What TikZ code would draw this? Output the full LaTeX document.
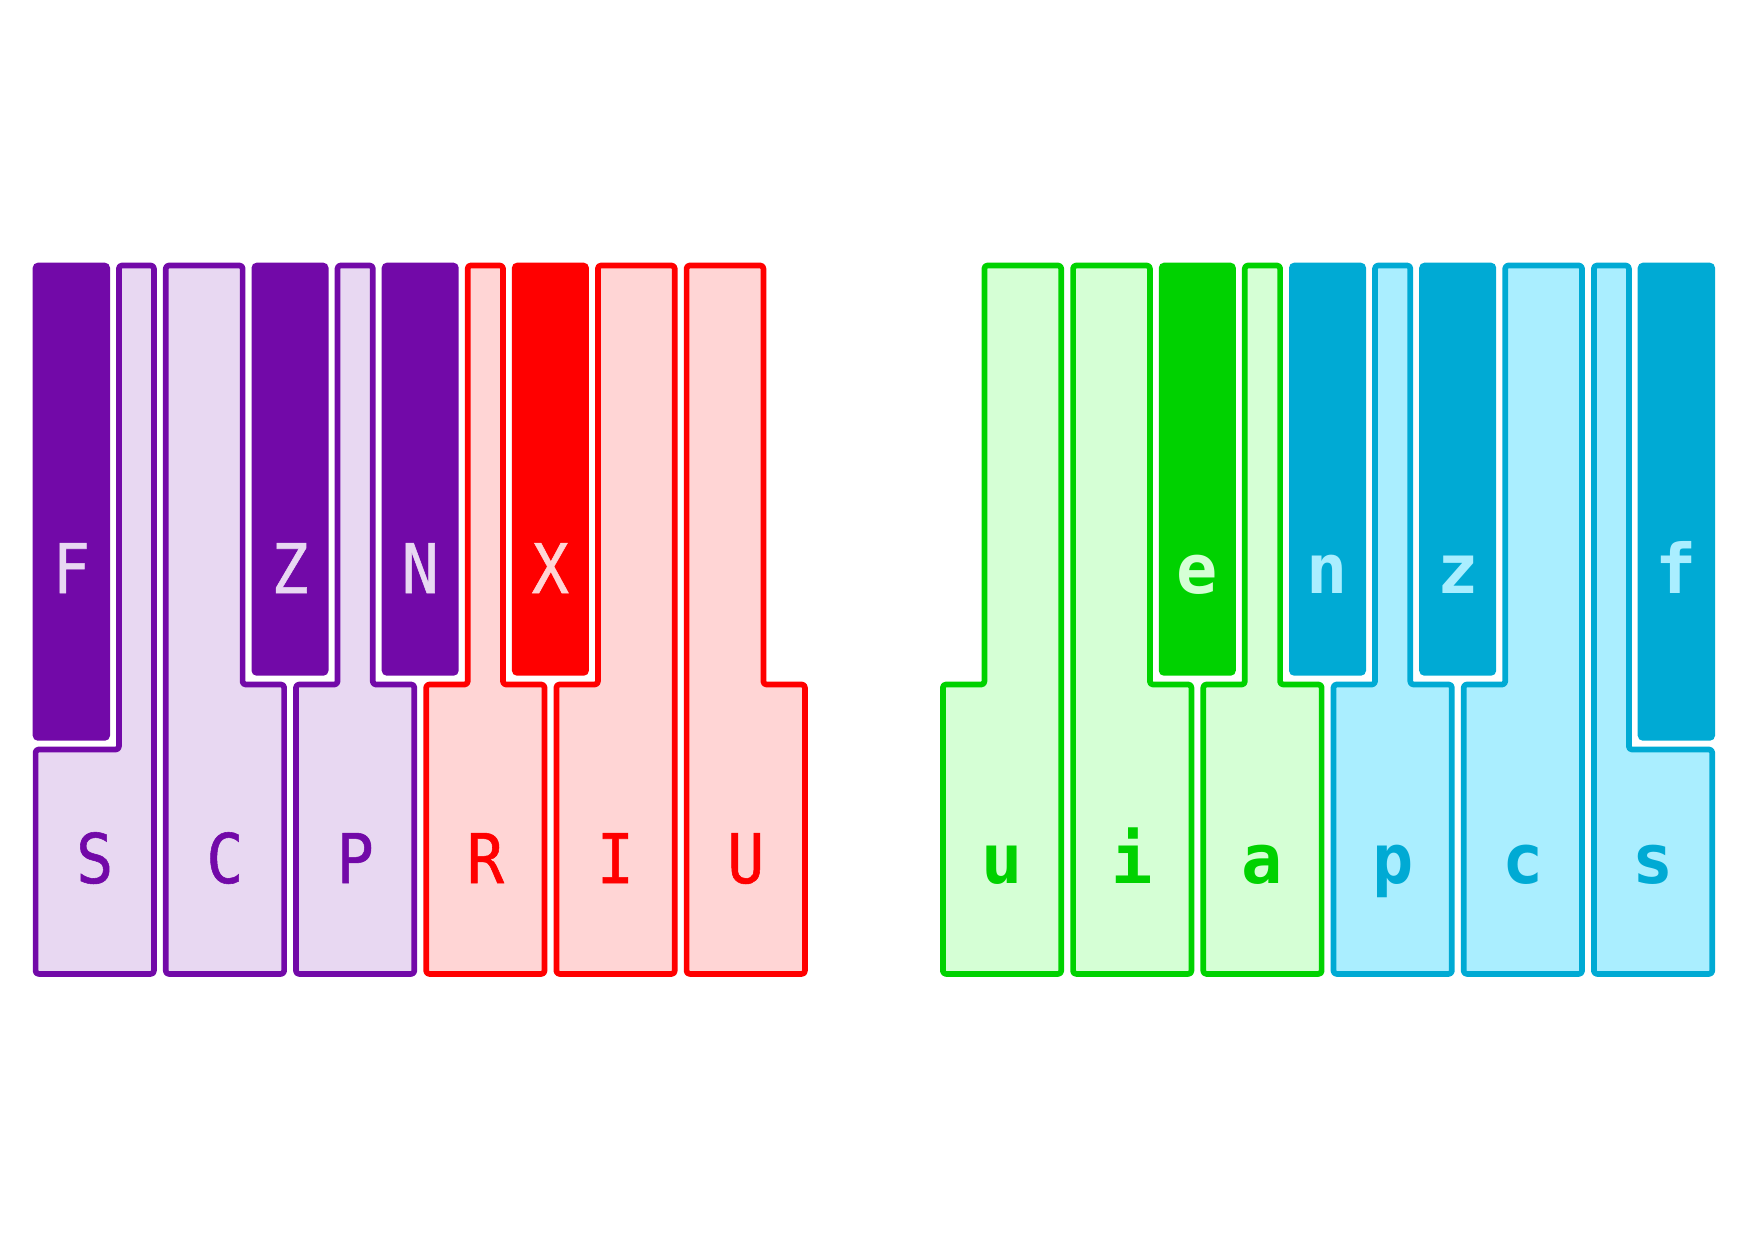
\documentclass[tikz,border=0pt]{standalone}
\usepackage{fontspec}
\setmonofont{DejaVu Sans Mono}
\newfontface\capfont{DejaVu Sans Mono}[FakeBold=0.8,FakeStretch=0.9]
\usepackage{tikz}
\usetikzlibrary{positioning,calc}
\definecolor{plum}{HTML}{7209A8}
\definecolor{plumlt}{HTML}{E8D8F2}
\definecolor{rd}{HTML}{FF0000}
\definecolor{rdlt}{HTML}{FFD5D5}
\definecolor{grn}{HTML}{00D200}
\definecolor{grnlt}{HTML}{D5FFD5}
\definecolor{blu}{HTML}{00AAD4}
\definecolor{blult}{HTML}{AAEEFF}

\begin{document}
\begin{tikzpicture}[x=0.1mm,y=-0.1mm,
  wkey/.style={line width=0.57mm,rounded corners=0.3mm,line join=round},
  bkey/.style={rounded corners=0.5mm},
  lab/.style={inner sep=0pt,anchor=base,font=\capfont\fontsize{19.5}{20}\selectfont},
  lo/.style={lab,font=\ttfamily\bfseries\fontsize{19.5}{20}\selectfont}]
\useasboundingbox (0,0) rectangle (1748,1240);
% left hand, white keys
\draw[wkey,plum,fill=plumlt] (118.9,265.5) -- (153.9,265.5) -- (153.9,973.9) -- (35.6,973.9) -- (35.6,749.5) -- (118.9,749.5) -- cycle;
\draw[wkey,plum,fill=plumlt] (165.8,265.5) -- (242.6,265.5) -- (242.6,684.5) -- (284.1,684.5) -- (284.1,973.9) -- (165.8,973.9) -- cycle;
\draw[wkey,plum,fill=plumlt] (337.5,265.5) -- (372.8,265.5) -- (372.8,684.5) -- (414.3,684.5) -- (414.3,973.9) -- (296.0,973.9) -- (296.0,684.5) -- (337.5,684.5) -- cycle;
\draw[wkey,rd,fill=rdlt] (467.7,265.5) -- (503.0,265.5) -- (503.0,684.5) -- (544.5,684.5) -- (544.5,973.9) -- (426.2,973.9) -- (426.2,684.5) -- (467.7,684.5) -- cycle;
\draw[wkey,rd,fill=rdlt] (597.9,265.5) -- (674.7,265.5) -- (674.7,973.9) -- (556.4,973.9) -- (556.4,684.5) -- (597.9,684.5) -- cycle;
\draw[wkey,rd,fill=rdlt] (686.6,265.5) -- (763.4,265.5) -- (763.4,684.5) -- (804.9,684.5) -- (804.9,973.9) -- (686.6,973.9) -- cycle;
% left hand, black keys
\fill[bkey,plum] (32.7,262.7) rectangle (110,740.7);
\fill[bkey,plum] (251.5,262.7) rectangle (328.5,675.7);
\fill[bkey,plum] (381.7,262.7) rectangle (458.7,675.7);
\fill[bkey,rd] (511.9,262.7) rectangle (588.9,675.7);
% right hand, white keys
\draw[wkey,grn,fill=grnlt] (984.4,265.5) -- (1061.2,265.5) -- (1061.2,973.9) -- (942.9,973.9) -- (942.9,684.5) -- (984.4,684.5) -- cycle;
\draw[wkey,grn,fill=grnlt] (1073.1,265.5) -- (1149.9,265.5) -- (1149.9,684.5) -- (1191.4,684.5) -- (1191.4,973.9) -- (1073.1,973.9) -- cycle;
\draw[wkey,grn,fill=grnlt] (1244.8,265.5) -- (1280.1,265.5) -- (1280.1,684.5) -- (1321.6,684.5) -- (1321.6,973.9) -- (1203.3,973.9) -- (1203.3,684.5) -- (1244.8,684.5) -- cycle;
\draw[wkey,blu,fill=blult] (1375.0,265.5) -- (1410.3,265.5) -- (1410.3,684.5) -- (1451.8,684.5) -- (1451.8,973.9) -- (1333.5,973.9) -- (1333.5,684.5) -- (1375.0,684.5) -- cycle;
\draw[wkey,blu,fill=blult] (1505.2,265.5) -- (1582.0,265.5) -- (1582.0,973.9) -- (1463.7,973.9) -- (1463.7,684.5) -- (1505.2,684.5) -- cycle;
\draw[wkey,blu,fill=blult] (1593.9,265.5) -- (1628.9,265.5) -- (1628.9,749.5) -- (1712.2,749.5) -- (1712.2,973.9) -- (1593.9,973.9) -- cycle;
% right hand, black keys
\fill[bkey,grn] (1158.8,262.7) rectangle (1235.8,675.7);
\fill[bkey,blu] (1289.0,262.7) rectangle (1366.0,675.7);
\fill[bkey,blu] (1419.2,262.7) rectangle (1496.2,675.7);
\fill[bkey,blu] (1637.7,262.7) rectangle (1715,740.7);
% letters
\node[lab,plum] (LS) at (94.7,883) {S};
\node[lab,plum] (LC) at (224.9,883) {C};
\node[lab,plum] (LP) at (355.2,883) {P};
\node[lab,rd] (LR) at (485.4,883) {R};
\node[lab,rd] (LI) at (615.5,883) {I};
\node[lab,rd] (LU) at (745.8,883) {U};
\node[lab,plumlt] (LF) at (71.4,593) {F};
\node[lab,plumlt] (LZ) at (290.0,593) {Z};
\node[lab,plumlt] (LN) at (420.2,593) {N};
\node[lab,rdlt] (LX) at (550.4,593) {X};
\node[lo,grn] (Ru) at (1002.0,883) {u};
\node[lo,grn] (Ri) at (1132.2,883) {i};
\node[lo,grn] (Ra) at (1262.5,883) {a};
\node[lo,blu] (Rp) at (1392.7,883) {p};
\node[lo,blu] (Rc) at (1522.8,883) {c};
\node[lo,blu] (Rs) at (1653.0,883) {s};
\node[lo,grnlt] (Re) at (1197.3,593) {e};
\node[lo,blult] (Rn) at (1327.5,593) {n};
\node[lo,blult] (Rz) at (1457.7,593) {z};
\node[lo,blult] (Rf) at (1676.4,593) {f};
\end{tikzpicture}
\end{document}
